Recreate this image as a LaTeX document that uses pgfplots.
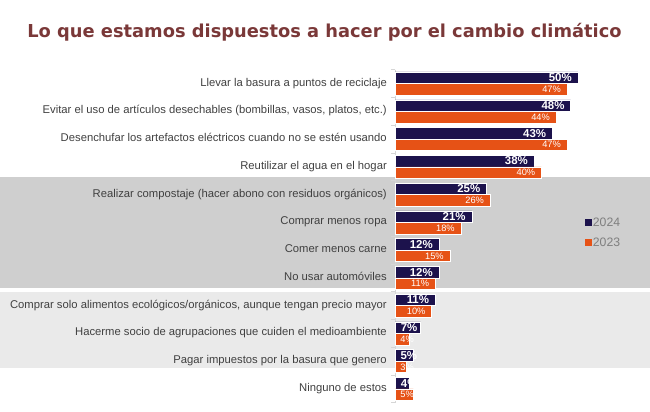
\documentclass[border=0pt]{standalone}
\usepackage{pgfplots}
\pgfplotsset{compat=1.18}
\usepackage{pgfplotstable}
\usepackage{fontspec}
\setmainfont{Liberation Sans}
\newfontfamily\titlefont{DejaVu Sans}
\definecolor{navy}{RGB}{28,18,76}
\definecolor{orng}{RGB}{230,82,22}
\definecolor{titlecol}{RGB}{122,56,56}
\definecolor{labelgray}{RGB}{64,64,64}
\definecolor{legendgray}{RGB}{127,127,127}
\definecolor{bandgray}{RGB}{207,207,207}
\definecolor{bandlight}{RGB}{234,234,234}
\definecolor{axisgray}{RGB}{214,214,214}

% y: row, v24/v23: values (%), l24/l23: x position of the value label (right edge)
\pgfplotstableread{
y v24 v23 l24 l23
0 50 47 48.36 45.36
1 48 44 46.36 42.36
2 43 47 41.36 45.36
3 38 40 36.36 38.36
4 25 26 23.36 24.36
5 21 18 19.36 16.36
6 12 15 10.36 13.36
7 12 11 10.36 9.36
8 11 10 9.36 8.36
9 7 4 6.18 5.20
10 5 3 6.09 5.19
11 4 5 6.19 5.19
}\datatable

\begin{document}
\begin{tikzpicture}
\useasboundingbox (0bp,0bp) rectangle (650bp,412bp);
% background bands
\fill[bandgray] (0bp,{412bp-177bp}) rectangle (650bp,{412bp-288bp});
\fill[bandlight] (0bp,{412bp-292bp}) rectangle (650bp,{412bp-368bp});
% title
\node[text=titlecol, font=\titlefont\bfseries\fontsize{17.9}{21}\selectfont] at (324.5bp,{412bp-32bp}) {Lo que estamos dispuestos a hacer por el cambio climático};
\begin{axis}[
  at={(395bp,{412bp-69.6bp})}, anchor=north west,
  scale only axis, width=253bp, height=333.2bp,
  xmin=0, xmax=69.13, ymin=-0.5, ymax=11.5,
  y dir=reverse,
  axis x line=none,
  axis y line*=left,
  y axis line style={draw=axisgray, line width=1bp, -},
  xtick=\empty,
  ytick={0,...,11},
  minor ytick={-0.5,0.5,...,11.5},
  major tick length=0pt,
  minor tick length=3.5bp,
  tick align=outside,
  minor tick style={draw=axisgray, line width=0.8bp},
  yticklabels={
    {Llevar la basura a puntos de reciclaje},
    {Evitar el uso de artículos desechables (bombillas, vasos, platos, etc.)},
    {Desenchufar los artefactos eléctricos cuando no se estén usando},
    {Reutilizar el agua en el hogar},
    {Realizar compostaje (hacer abono con residuos orgánicos)},
    {Comprar menos ropa},
    {Comer menos carne},
    {No usar automóviles},
    {Comprar solo alimentos ecológicos/orgánicos, aunque tengan precio mayor},
    {Hacerme socio de agrupaciones que cuiden el medioambiente},
    {Pagar impuestos por la basura que genero},
    {Ninguno de estos}},
  yticklabel style={font=\fontsize{11.3}{13}\selectfont, text=labelgray, inner sep=0pt, xshift=-8bp, anchor=east, text height=0.72em, text depth=0.2em},
  bar width=11.5bp,
  /pgf/number format/assume math mode=true,
  clip=false,
  legend style={at={(axis cs:51.75,4.78)}, anchor=north west, draw=none, fill=none,
    font=\fontsize{12.3}{14}\selectfont, text=legendgray, row sep=7.6bp, inner sep=0pt,
    nodes={inner sep=1.3bp}, cells={anchor=west}},
  legend image code/.code={\fill[#1,draw=none] (0bp,-3.5bp) rectangle (7bp,3.5bp);},
]
\addplot[xbar, forget plot, bar shift=5.75bp, fill=navy, draw=white, line width=0.4bp]
  table[x=v24, y=y] {\datatable};
\addplot[xbar, forget plot, bar shift=-5.75bp, fill=orng, draw=white, line width=0.4bp]
  table[x=v23, y=y] {\datatable};
% value labels
\addplot[forget plot, only marks, mark=none,
  point meta=explicit,
  nodes near coords={\pgfmathprintnumber{\pgfplotspointmeta}\%},
  every node near coord/.append style={anchor=east, yshift=5.75bp, inner sep=0pt, text=white, font=\bfseries\fontsize{11.5}{13}\selectfont}]
  table[x=l24, y=y, meta=v24] {\datatable};
\addplot[forget plot, only marks, mark=none,
  point meta=explicit,
  nodes near coords={\pgfmathprintnumber{\pgfplotspointmeta}\%},
  every node near coord/.append style={anchor=east, yshift=-5.75bp, inner sep=0pt, text=white, font=\fontsize{9.3}{11}\selectfont}]
  table[x=l23, y=y, meta=v23] {\datatable};
\addlegendimage{fill=navy}
\addlegendentry{2024}
\addlegendimage{fill=orng}
\addlegendentry{2023}
\end{axis}
\end{tikzpicture}
\end{document}
